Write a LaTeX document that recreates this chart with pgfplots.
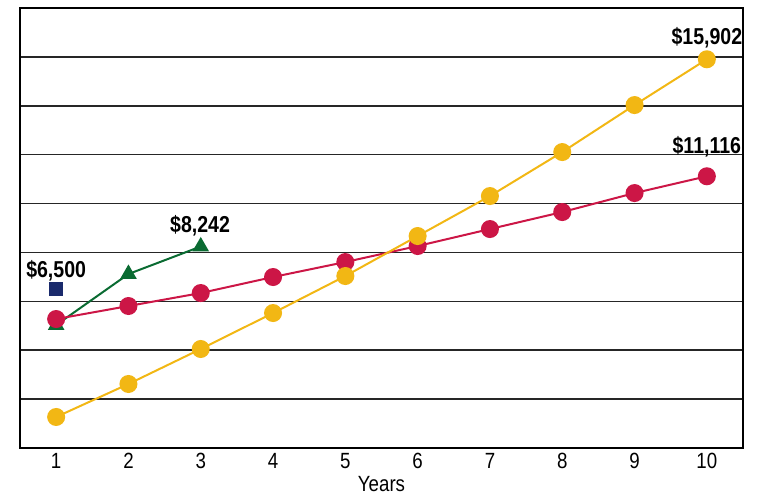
\documentclass[border=0pt]{standalone}
\usepackage{pgfplots}
\pgfplotsset{compat=1.18}
\usepackage{fontspec}
\setmainfont{Liberation Sans}[FakeStretch=0.85]

\definecolor{cgold}{HTML}{F2B714}
\definecolor{cred}{HTML}{CC1646}
\definecolor{cgreen}{HTML}{0A6B32}
\definecolor{cblue}{HTML}{1A2A6C}

\begin{document}
\begin{tikzpicture}
\begin{axis}[
  scale only axis,
  width=361.5pt, height=220pt,
  xmin=0.5, xmax=10.5,
  ymin=0, ymax=18000,
  xtick={1,...,10},
  ytick={0,2000,...,18000},
  yticklabels={},
  scaled y ticks=false,
  ymajorgrids,
  major grid style={black!85, line width=0.8pt},
  major tick length=0pt,
  axis line style={black, line width=0.8pt},
  xlabel={Years},
  xlabel style={font=\fontsize{11}{12}\selectfont, yshift=3pt},
  xticklabel style={yshift=1pt},
  tick label style={font=\fontsize{11}{12}\selectfont},
  /pgf/number format/assume math mode=true,
  clip=false,
]
% green: years 1-3
\addplot[cgreen, line width=1pt, mark=triangle*, mark size=3.8pt,
  mark options={fill=cgreen, draw=cgreen}]
  coordinates {(1,5030) (2,7117) (3,8242)};
% red
\addplot[cred, line width=1pt, mark=*, mark size=4pt,
  mark options={fill=cred, draw=cred}]
  coordinates {(1,5276) (2,5808) (3,6339) (4,6994) (5,7607)
               (6,8262) (7,8957) (8,9652) (9,10429) (10,11116)};
% gold
\addplot[cgold, line width=1pt, mark=*, mark size=4pt,
  mark options={fill=cgold, draw=cgold}]
  coordinates {(1,1268) (2,2618) (3,4049) (4,5521) (5,7035)
               (6,8671) (7,10307) (8,12106) (9,14029) (10,15902)};
% blue square
\addplot[only marks, mark=square*, mark size=3.2pt,
  mark options={fill=cblue, draw=cblue}]
  coordinates {(1,6500)};

\node[anchor=base, font=\bfseries\fontsize{11.5}{12}\selectfont] at (axis cs:10,16520) {\$15,902};
\node[anchor=base, font=\bfseries\fontsize{11.5}{12}\selectfont] at (axis cs:10,12065) {\$11,116};
\node[anchor=base, font=\bfseries\fontsize{11.5}{12}\selectfont] at (axis cs:2.99,8834) {\$8,242};
\node[anchor=base, font=\bfseries\fontsize{11.5}{12}\selectfont] at (axis cs:1,6994) {\$6,500};
\end{axis}
\path (current axis.south west) ++(-10pt,-24pt);
\path (current axis.north east) ++(9pt,4pt);
\end{tikzpicture}
\end{document}
